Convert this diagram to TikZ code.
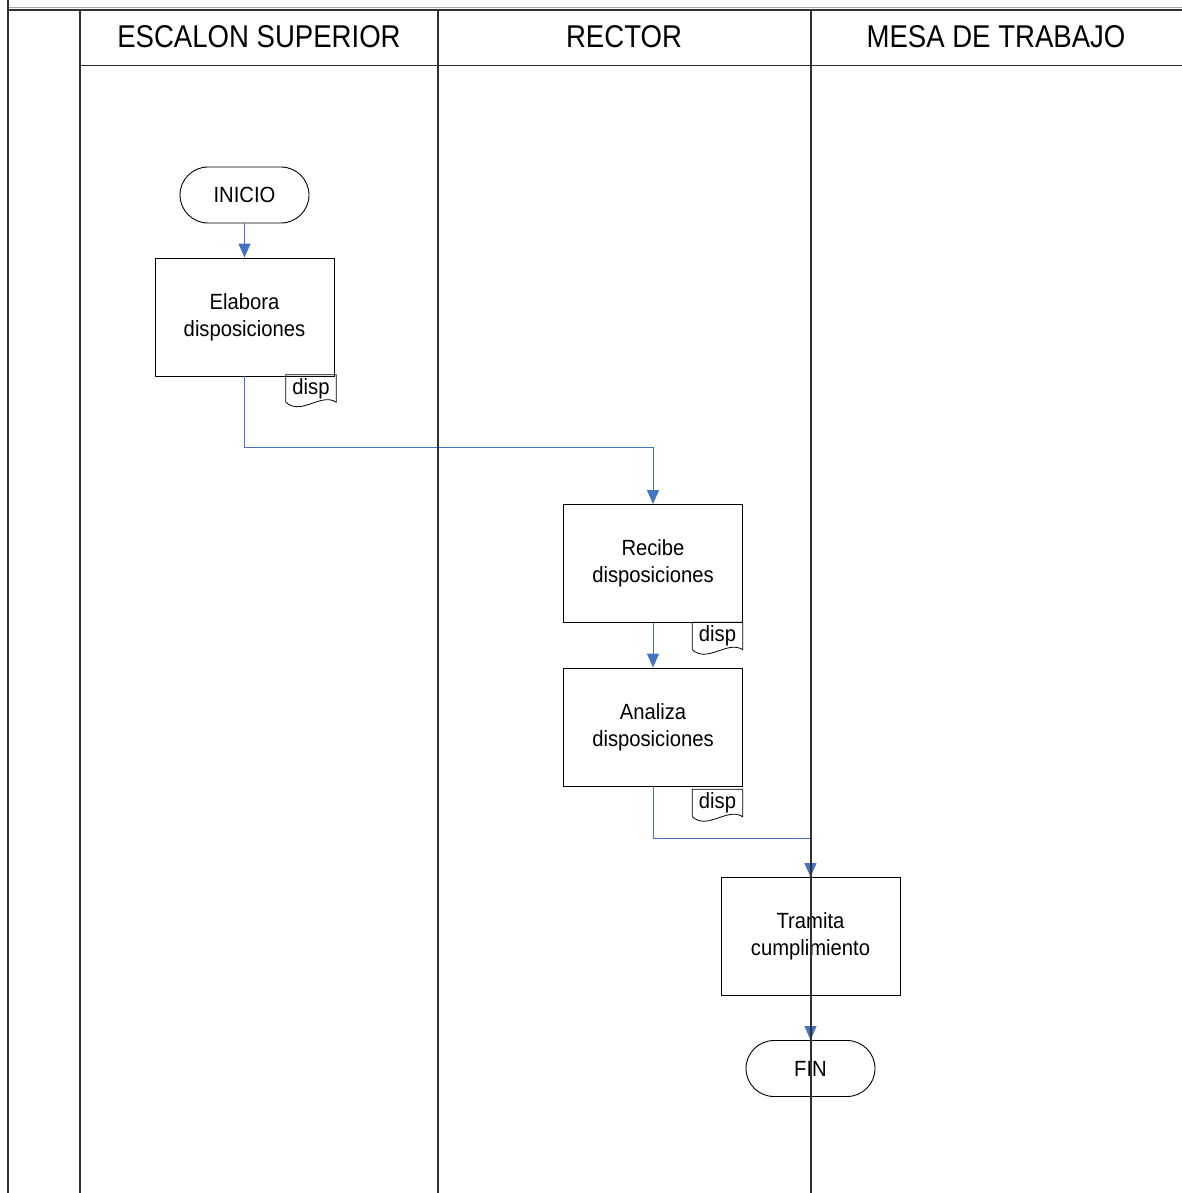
\documentclass[tikz,border=0pt]{standalone}
\usepackage{fontspec}
\setmainfont{Liberation Sans}
\newfontfamily\nodefont[FakeStretch=0.92]{Liberation Sans}
\newfontfamily\hdrfont[FakeStretch=0.875]{Liberation Sans}
\usetikzlibrary{arrows.meta,calc}
\definecolor{connblue}{HTML}{4472C4}
\definecolor{lanegray}{HTML}{303030}
\tikzset{
  lane/.style={draw=lanegray, line width=1.6pt},
  proc/.style={draw=black, line width=0.9pt, minimum width=179pt, minimum height=118pt, inner sep=0pt, align=center, font=\nodefont\fontsize{22}{27}\selectfont},
  term/.style={draw=black, line width=0.9pt, rounded corners=28pt, minimum width=129pt, minimum height=56pt, inner sep=0pt, font=\nodefont\fontsize{22}{27}\selectfont},
  docnode/.style={minimum width=50pt, minimum height=27pt, inner sep=0pt, font=\nodefont\fontsize{22}{24}\selectfont},
  conn/.style={draw=connblue, line width=1pt, -{Triangle[length=14pt,width=12pt]}},
  hdr/.style={font=\hdrfont\fontsize{31.5}{36}\selectfont, inner sep=0pt},
}
\begin{document}
\begin{tikzpicture}[x=1pt,y=-1pt]
\useasboundingbox (0,0) rectangle (1182,1193);
% header texts
\node[hdr] (h1) at (259,37) {ESCALON SUPERIOR};
\node[hdr] (h2) at (624,37) {RECTOR};
\node[hdr] (h3) at (996,37) {MESA DE TRABAJO};
% nodes
\node[term] (inicio) at (244.5,195) {INICIO};
\node[proc] (elab) at (244.5,317) {Elabora\\disposiciones};
\node[docnode] (d1) at (311,388.5) {disp};
\node[proc] (rec) at (653,563.5) {Recibe\\disposiciones};
\node[docnode] (d2) at (717.5,636) {disp};
\node[proc] (ana) at (653,727) {Analiza\\disposiciones};
\node[docnode] (d3) at (717.5,803) {disp};
\node[proc] (tram) at (810.5,936.5) {Tramita\\cumplimiento};
\node[term] (fin) at (810.5,1068.5) {FIN};
% document outlines
\foreach \n in {d1,d2,d3}{
  \draw[line width=0.8pt] (\n.south west) -- (\n.north west) -- (\n.north east) -- (\n.south east)
    .. controls +(-15,-10) and +(15,14) .. (\n.south west);
}
% connectors
\draw[conn] (inicio.south) -- (elab.north);
\draw[conn] (elab.south) -- ++(0,71) -| (rec.north);
\draw[conn] (rec.south) -- (ana.north);
\draw[conn] (ana.south) -- ++(0,52) -| (tram.north);
\draw[conn] (tram.south) -- (fin.north);
% frame and lanes
\draw[draw=gray!70, line width=0.8pt] (8,7) -- (1182,7);
\draw[lane] (8,10) -- (1182,10);
\draw[lane] (8,0) -- (8,1193);
\draw[lane] (80,10) -- (80,1193);
\draw[lane] (438,10) -- (438,1193);
\draw[lane] (811,10) -- (811,1193);
\draw[lane] (80,65.5) -- (1182,65.5);
\end{tikzpicture}
\end{document}
